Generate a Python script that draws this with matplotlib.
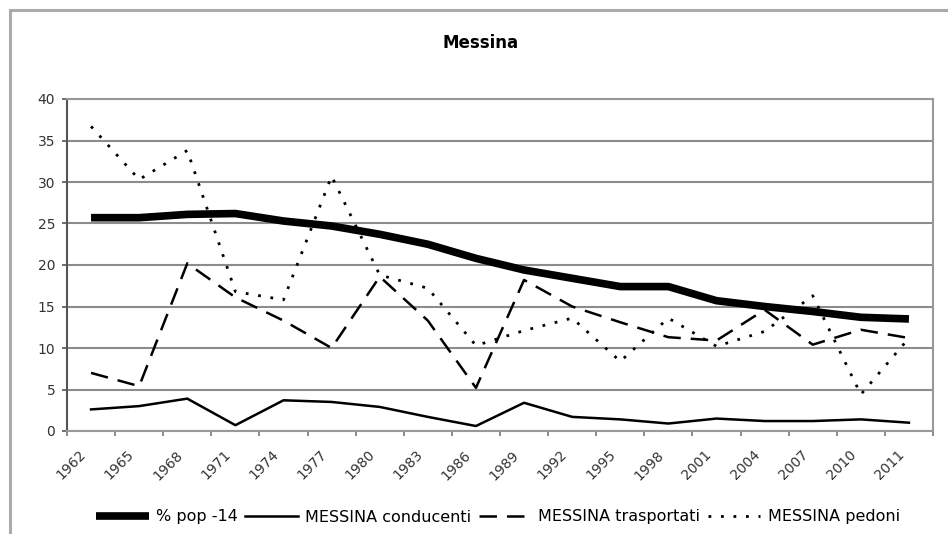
import matplotlib
matplotlib.use("Agg")
import matplotlib.pyplot as plt
import numpy as np
from matplotlib.patches import Rectangle
from matplotlib.transforms import ScaledTranslation

years = ['1962', '1965', '1968', '1971', '1974', '1977', '1980', '1983', '1986',
         '1989', '1992', '1995', '1998', '2001', '2004', '2007', '2010', '2011']
pop14 = [25.7, 25.7, 26.1, 26.2, 25.3, 24.7, 23.7, 22.5, 20.8,
         19.4, 18.4, 17.4, 17.4, 15.7, 15.0, 14.4, 13.7, 13.5]
conducenti = [2.6, 3.0, 3.9, 0.7, 3.7, 3.5, 2.9, 1.7, 0.6,
              3.4, 1.7, 1.4, 0.9, 1.5, 1.2, 1.2, 1.4, 1.0]
trasportati = [7.0, 5.4, 20.2, 16.1, 13.3, 10.0, 18.6, 13.3, 5.2,
               18.2, 15.0, 13.1, 11.3, 10.9, 14.6, 10.4, 12.2, 11.2]
pedoni = [36.7, 30.3, 33.8, 16.8, 15.8, 30.7, 18.8, 17.2, 10.3,
          12.1, 13.6, 8.4, 13.6, 10.2, 12.0, 16.3, 4.4, 11.2]

plt.rcParams['font.family'] = 'DejaVu Sans'

fig = plt.figure(figsize=(9.48, 5.34), dpi=100)
ax = fig.add_axes([67/948, 103/534, 866/948, 332/534])

x = np.arange(len(years))
ax.plot(x, pop14, color='black', lw=5.5, solid_capstyle='butt', label='% pop -14')
ax.plot(x, conducenti, color='black', lw=1.8, label='MESSINA conducenti')
ax.plot(x, trasportati, color='black', lw=1.8, linestyle=(0, (7, 4)), label='MESSINA trasportati')
ax.plot(x, pedoni, color='black', lw=2, linestyle=(0, (1, 3.5)), label='MESSINA pedoni')

ax.set_xlim(-0.5, len(years) - 0.5)
ax.set_ylim(0, 40)
ax.set_yticks(np.arange(0, 41, 5))
ax.yaxis.grid(True, color='#8c8c8c', lw=1.5)
ax.set_axisbelow(True)

# boundaries get the tick marks, centres get the labels
ax.set_xticks(np.arange(-0.5, len(years), 1))
ax.set_xticklabels([])
ax.set_xticks(x, minor=True)
ax.set_xticklabels(years, minor=True, rotation=45, ha='right', va='top',
                   rotation_mode='anchor', fontsize=10, color='#333333')
ax.tick_params(axis='x', which='major', direction='out', length=3.5, width=1.2, color='#777777')
ax.tick_params(axis='x', which='minor', length=0, pad=12)
ax.tick_params(axis='y', direction='out', length=3.5, width=1.2, color='#555555',
               labelsize=10, labelcolor='#333333', pad=5)
off = ScaledTranslation(-0.12, 0, fig.dpi_scale_trans)
for lbl in ax.get_xticklabels(minor=True):
    lbl.set_transform(lbl.get_transform() + off)

for side in ['top', 'right', 'bottom']:
    ax.spines[side].set_color('#999999')
    ax.spines[side].set_linewidth(1.5)
ax.spines['left'].set_color('#555555')
ax.spines['left'].set_linewidth(1.5)

fig.text(481/948, 1 - 43/534, 'Messina', ha='center', va='center',
         fontsize=12, fontweight='bold')

ax.legend(loc='center', bbox_to_anchor=(498/948, 17/534), bbox_transform=fig.transFigure,
          ncol=4, frameon=False, fontsize=11.5, handlelength=3.3, handletextpad=0.45,
          columnspacing=0.45, borderpad=0)

# outer chart border
fig.add_artist(Rectangle((10/948, -0.1), 1.2, 1 - 10/534 + 0.1, transform=fig.transFigure,
                         fill=False, edgecolor='#aaaaaa', lw=2.2))

fig.savefig('out.png', dpi=100)
